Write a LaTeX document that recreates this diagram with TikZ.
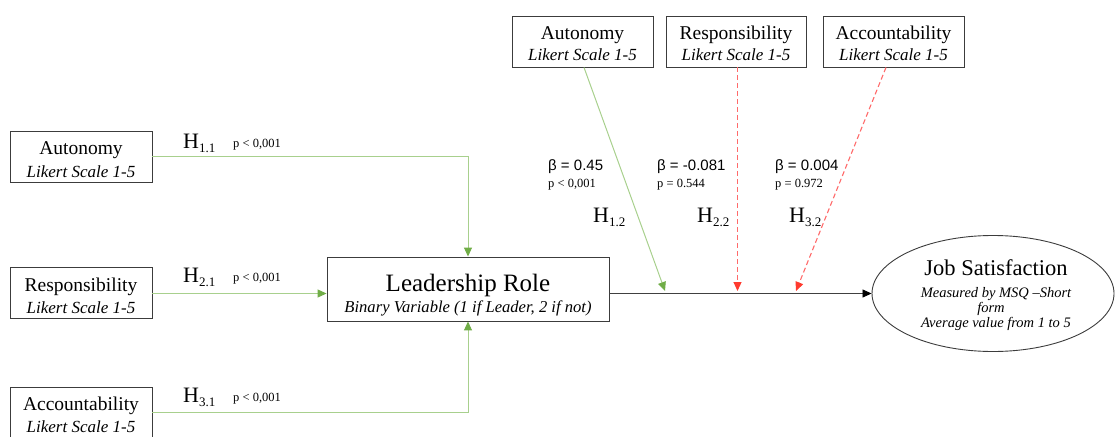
\documentclass[tikz,border=0pt]{standalone}
\usepackage{fontspec}
\setmainfont{Liberation Serif}
\newfontfamily\sansf{Liberation Sans}
\usetikzlibrary{arrows.meta,calc,shapes.geometric}
\definecolor{boxgray}{HTML}{3C3C3C}
\definecolor{lgreen}{HTML}{A8D08D}
\definecolor{dgreen}{HTML}{70AD47}
\definecolor{lred}{HTML}{FF6A6A}
\definecolor{dred}{HTML}{FF3B2F}
\definecolor{outgray}{HTML}{404040}
\newcommand\Hs[1]{H\raisebox{-4pt}{\fontsize{13}{13}\selectfont #1}}
\begin{document}
\begin{tikzpicture}[x=1pt,y=1pt,
 vbox/.style={draw=boxgray, line width=0.9pt, minimum width=142pt, minimum height=51pt, inner sep=0pt},
 ttl/.style={anchor=base, inner sep=0pt, font=\fontsize{19.5}{22}\selectfont},
 sub/.style={anchor=base, inner sep=0pt, font=\fontsize{17}{20}\selectfont\itshape},
 gline/.style={draw=lgreen, line width=1pt},
 garrow/.style={gline, -{Triangle[width=8pt,length=9pt,color=dgreen]}},
 rarrow/.style={draw=lred, line width=1.1pt, dash pattern=on 5pt off 3pt, -{Triangle[width=8pt,length=9pt,color=dred]}},
 oarrow/.style={draw=outgray, line width=0.8pt, -{Triangle[width=8pt,length=9pt,color=black]}},
 hlab/.style={anchor=base west, inner sep=0pt, font=\fontsize{22}{24}\selectfont},
 plab/.style={anchor=base west, inner sep=0pt, font=\fontsize{12.5}{14}\selectfont},
 blab/.style={anchor=base west, inner sep=0pt, font=\sansf\fontsize{15}{17}\selectfont},
]
\useasboundingbox (0,0) rectangle (1115,-436);

% left variable boxes
\node[vbox] (la) at (81,-156.5) {};
\node[ttl] (lat) at ($(la.north)+(0,-24)$) {Autonomy};
\node[sub] (las) at ($(la.north)+(0,-47)$) {Likert Scale 1-5};
\node[vbox] (lr) at (81,-293) {};
\node[ttl] (lrt) at ($(lr.north)+(0,-24)$) {Responsibility};
\node[sub] (lrs) at ($(lr.north)+(0,-46)$) {Likert Scale 1-5};
\node[vbox] (lc) at (81,-412.5) {};
\node[ttl] (lct) at ($(lc.north)+(0,-24)$) {Accountability};
\node[sub] (lcs) at ($(lc.north)+(0,-46)$) {Likert Scale 1-5};

% top variable boxes
\node[vbox, minimum width=141pt] (ta) at (582.5,-41.5) {};
\node[ttl] (tat) at ($(ta.north)+(0,-24)$) {Autonomy};
\node[sub] (tas) at ($(ta.north)+(0,-45)$) {Likert Scale 1-5};
\node[vbox, minimum width=140pt] (tr) at (736,-41.5) {};
\node[ttl] (trt) at ($(tr.north)+(0,-24)$) {Responsibility};
\node[sub] (trs) at ($(tr.north)+(0,-45)$) {Likert Scale 1-5};
\node[vbox, minimum width=141pt] (tc) at (893.5,-41.5) {};
\node[ttl] (tct) at ($(tc.north)+(0,-24)$) {Accountability};
\node[sub] (tcs) at ($(tc.north)+(0,-45)$) {Likert Scale 1-5};

% leadership role
\node[vbox, minimum width=282pt, minimum height=64pt] (lead) at (468,-289) {};
\node[anchor=base, inner sep=0pt, font=\fontsize{25}{28}\selectfont] (leadt) at ($(lead.north)+(0,-35)$) {Leadership Role};
\node[anchor=base, inner sep=0pt, font=\fontsize{16.6}{19}\selectfont\itshape] (leads) at ($(lead.north)+(0,-56)$) {Binary Variable (1 if Leader, 2 if not)};

% job satisfaction
\node[draw=boxgray, line width=0.9pt, ellipse, minimum width=242pt, minimum height=116pt, inner sep=0pt] (js) at (993,-293.5) {};
\node[anchor=base, inner sep=0pt, font=\fontsize{22.5}{25}\selectfont] (jst) at (996,-275) {Job Satisfaction};
\node[anchor=base, inner sep=0pt, font=\fontsize{14.5}{16}\selectfont\itshape] (jss1) at (996,-297) {Measured by MSQ –Short};
\node[anchor=base, inner sep=0pt, font=\fontsize{14.5}{16}\selectfont\itshape] (jss2) at (991,-312) {form};
\node[anchor=base, inner sep=0pt, font=\fontsize{14.5}{16}\selectfont\itshape] (jss3) at (996,-327) {Average value from 1 to 5};

% connectors
\draw[garrow] (la.east) -| (lead.north);
\draw[garrow] ($(lr.east)+(0,-0.5)$) -- ($(lr.east -| lead.west)+(0,-0.5)$);
\draw[garrow] (lc.east) -| (lead.south);
\draw[oarrow] ($(lead.east)+(0,-4.5)$) -- (js.west);

\coordinate (m1) at (665,-291);
\coordinate (m2) at (737.5,-291);
\coordinate (m3) at (796,-291);
\draw[garrow] ($(ta.south)+(1.5,0)$) -- (m1);
\draw[rarrow] ($(tr.south)+(1.5,0)$) -- (m2);
\draw[rarrow] ($(tc.south)+(-7.5,0)$) -- (m3);

% labels on left paths
\node[hlab] (h11) at (183,-148) {\Hs{1.1}};
\node[plab] (p11) at (233,-147) {p < 0,001};
\node[hlab] (h21) at (183,-282) {\Hs{2.1}};
\node[plab] (p21) at (233,-281) {p < 0,001};
\node[hlab] (h31) at (183,-402) {\Hs{3.1}};
\node[plab] (p31) at (233,-401) {p < 0,001};

% labels on top paths
\node[blab] (b1) at (548,-170) {β = 0.45};
\node[plab] (pp1) at (548,-187) {p < 0,001};
\node[hlab] (h12) at (593,-222) {\Hs{1.2}};
\node[blab] (b2) at (657,-170) {β = -0.081};
\node[plab] (pp2) at (657,-187) {p = 0.544};
\node[hlab] (h22) at (697,-222) {\Hs{2.2}};
\node[blab] (b3) at (775,-170) {β = 0.004};
\node[plab] (pp3) at (775,-187) {p = 0.972};
\node[hlab] (h32) at (789,-222) {\Hs{3.2}};
\end{tikzpicture}
\end{document}
